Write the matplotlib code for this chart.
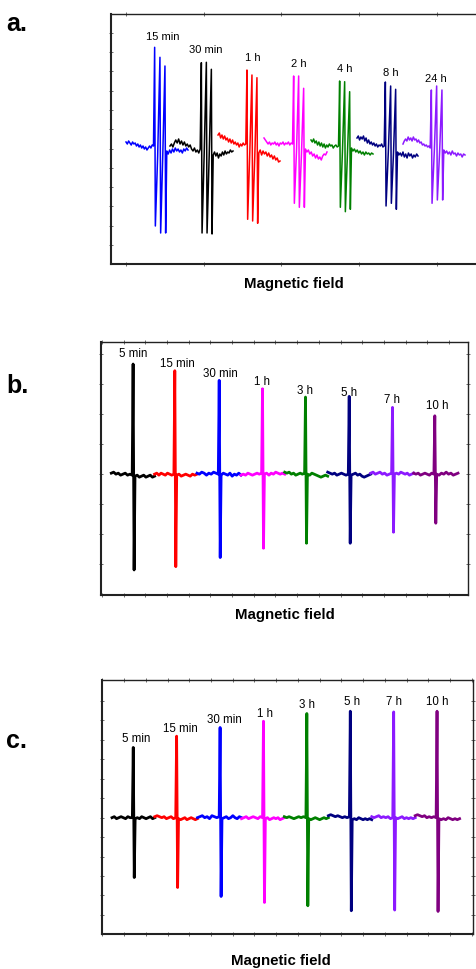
import numpy as np
import matplotlib
matplotlib.use("Agg")
import matplotlib.pyplot as plt

plt.rcParams["font.family"] = ["Liberation Sans", "DejaVu Sans"]

W, H = 477, 969

# ---------------- panel a: three-line spectra ----------------
A_LABELS = ["15 min", "30 min", "1 h", "2 h", "4 h", "8 h", "24 h"]
A_COLORS = ["#0000ff", "#000000", "#ff0000", "#ff00ff", "#008000", "#000080", "#8c1aff"]
A_START = [15, 59, 107, 153, 200, 246, 292]
A_END = [77, 122, 169, 216, 262, 307, 354]
A_LINE_X = [[44, 49.3, 54.3], [90.7, 95.7, 100.7], [136.3, 141.3, 146.3],
            [183, 188, 193], [229, 234, 239], [274.7, 280, 285], [320.7, 326, 331.3]]
A_TOP = [[99.7, 89.7, 81], [84.3, 84.7, 77.7], [77, 72, 69.3], [71, 71, 58.7],
         [66, 65.3, 55.3], [65, 61, 57.7], [57, 61, 57]]
A_BOT = [[-79, -86, -86], [-86, -86, -87], [-72.3, -74, -76.3], [-56.3, -60.3, -60.3],
         [-60.3, -64.7, -62.3], [-59, -56.3, -62.3], [-56.3, -53, -53]]
A_PRE = [[5, 3, 6, 4, 2, 5, 3, 4, 1, 3, 0, 2, -1, 1, -2, 0, -3, -1, 1, -1, 2, 1],
         [1, 3, 0, 4, 7, 4, 8, 3, 6, 2, 5, 1, 3, 0, 2, -2, -4, -1, -5, -3, -6, -2],
         [12, 14, 9, 12, 8, 11, 7, 9, 5, 8, 4, 7, 3, 5, 2, 4, 0, 3, 1, 4, 2, 3],
         [9, 7, 5, 3, 5, 2, 4, 3, 5, 2, 4, 1, 4, 3, 5, 2, 4, 3, 5, 2, 4, 3],
         [7, 5, 8, 4, 6, 2, 5, 1, 4, 0, 3, -1, 2, 0, 3, 1, 2, -1, 1, 2, 0, 1],
         [9, 11, 7, 10, 8, 11, 6, 9, 4, 7, 3, 5, 2, 4, 1, 3, 0, 2, 1, 3, 0, 1],
         [3, 6, 8, 6, 10, 7, 9, 6, 10, 7, 8, 5, 7, 4, 5, 2, 3, 1, 2, 0, 1, -1]]
A_MID = [[-9, -7], [-6, -8], [-5, -9], [-4, -6], [-3, -5], [-4, -6], [-3, -4]]
A_POST = [[-4, -7, -3, -6, -2, -5, -1, -4, -2, -5, -3, -6, -2, -4, -1, -3],
          [-8, -5, -9, -6, -11, -7, -9, -5, -8, -4, -7, -5, -6, -3, -5, -4],
          [-6, -3, -8, -4, -7, -5, -9, -6, -10, -8, -12, -9, -13, -11, -15, -14],
          [-2, -5, -3, -7, -5, -9, -7, -11, -8, -12, -10, -13, -9, -7, -8, -5],
          [-1, -4, -2, -5, -3, -6, -4, -7, -5, -8, -5, -7, -6, -8, -6, -7],
          [-5, -8, -6, -9, -5, -10, -7, -11, -6, -9, -7, -11, -8, -10, -7, -9],
          [-3, -6, -4, -7, -5, -8, -4, -7, -6, -9, -6, -8, -7, -10, -7, -8]]
A_LABEL_X = [51.3, 94.7, 142.3, 188, 233.3, 279.7, 325]
A_LABEL_Y = [110, 97, 88.7, 83, 78, 73.7, 68]

# ---------------- panel b: single-line spectra ----------------
B_LABELS = ["5 min", "15 min", "30 min", "1 h", "3 h", "5 h", "7 h", "10 h"]
BC_COLORS = ["#000000", "#ff0000", "#0000ff", "#ff00ff", "#008000", "#000080",
             "#8c1aff", "#800080"]
B_START = [10.3, 53.6, 96, 140, 183.7, 226.7, 269.7, 312.7]
B_END = [53.6, 96, 140, 183.7, 226.7, 269.7, 312.7, 357]
B_LINE_X = [32.6, 74.3, 118.7, 162, 205, 248.7, 292, 334.3]
B_TOP = [110, 103.3, 93.7, 85.3, 77, 77.7, 66.7, 58.3]
B_BOT = [-95.7, -92.4, -83.3, -74, -69, -69, -58, -49]
B_PRE = [[1, 2, 0, 1, -1, 0, 1, -1, 0, -1],
         [0, 1, -1, 1, 0, -1, 1, 0, -1, 0],
         [1, 0, 2, 1, -1, 1, 0, 2, 1, 0],
         [-1, 0, -1, 1, 0, -1, 0, 1, 0, 1],
         [2, 1, 2, 0, 1, -1, 0, 1, 0, 1],
         [2, 1, 0, 1, -1, 0, 1, 0, -1, 0],
         [1, 2, 0, 1, 2, 0, 1, -1, 0, 1],
         [1, 0, 1, -1, 0, 1, 0, -1, 1, 0]]
B_POST = [[-2, -1, -3, -2, -1, -3, -2, -1, -3, -2],
          [-1, 0, -2, -1, 0, -1, -2, 0, -1, 0],
          [-1, 1, 0, -1, 1, -2, 0, -1, 1, -1],
          [0, 1, -1, 1, 0, 2, 1, 0, 1, 0],
          [0, -1, 1, 0, -1, -2, -3, -2, -1, -2],
          [-1, 0, 1, -1, 0, -2, -3, -2, -1, 0],
          [0, 1, 0, 2, 1, 0, 1, -1, 0, 1],
          [0, -1, 1, 0, 2, 0, 1, -1, 0, 1]]
B_LABEL_X = [32, 76, 119.3, 161, 204.3, 248.3, 291, 336]
B_LABEL_Y = [120, 110.3, 100.3, 91.6, 83.3, 81, 73.6, 67.6]

# ---------------- panel c ----------------
C_LABELS = ["5 min", "15 min", "30 min", "1 h", "3 h", "5 h", "7 h", "10 h"]
C_START = [10, 52.7, 95.3, 139.3, 182, 226, 269.3, 312.7]
C_END = [52.7, 95.3, 139.3, 182, 226, 269.3, 312.7, 357]
C_LINE_X = [31.7, 75, 118.4, 161.7, 205, 248.4, 291.7, 335]
C_TOP = [70.4, 81.7, 90.4, 96.7, 104.4, 106.7, 106, 106.7]
C_BOT = [-60, -70, -79, -85, -88.3, -93.3, -92.6, -94]
C_PRE = [[0, 1, -1, 0, 1, 0, -1, 1, 0, 0],
         [1, 2, 1, 0, 1, -1, 0, 1, -1, 0],
         [0, 1, 2, 0, 1, -1, 2, 1, 0, 1],
         [-1, 0, 1, -1, 0, 1, 0, -1, 1, 0],
         [1, 0, 1, 0, -1, 0, 1, 0, 1, 0],
         [2, 3, 2, 1, 2, 1, 0, 1, 0, 1],
         [1, 0, 1, 2, 0, 1, 0, 1, -1, 0],
         [2, 3, 2, 1, 2, 0, 1, 0, 1, 0]]
C_POST = [[-1, 0, -1, 1, 0, -1, 0, 1, -1, 0],
          [-1, -2, -1, 0, -2, -1, 0, -1, -2, -1],
          [-1, 0, 1, -1, 0, 2, 0, -1, 1, 0],
          [-1, 0, -2, -1, 0, -1, 0, -2, -1, 0],
          [-1, -2, -1, 0, -1, -2, -1, 0, -1, 0],
          [-2, -1, -2, 0, -1, -2, -1, -2, -1, -2],
          [0, -1, 0, 1, -1, 0, -1, 0, -1, 0],
          [-1, -2, -1, -2, 0, -1, -2, -1, -2, -1]]
C_LABEL_X = [33.7, 78.7, 122, 162.7, 205, 249.4, 291.7, 334.4]
C_LABEL_Y = [78.7, 88.7, 97.7, 104.4, 112.7, 116, 116, 116]


def build_trace(start, end, line_x, tops, bots, pre, post, mid=None, gap=1.5, dx=0.4):
    xs = list(np.linspace(start, line_x[0] - gap, len(pre)))
    ys = list(pre)
    for i, lx in enumerate(line_x):
        xs += [lx - dx, lx + dx]
        ys += [tops[i], bots[i]]
        if mid is not None and i < len(line_x) - 1:
            xs.append((lx + line_x[i + 1]) / 2)
            ys.append(mid[i])
    xs += list(np.linspace(line_x[-1] + gap, end, len(post)))
    ys += list(post)
    return np.array(xs), np.array(ys)


def make_axes(fig, l, r, t, b):
    return fig.add_axes([l / W, 1 - b / H, (r - l) / W, (b - t) / H])


def style_axes(ax, xticks, yticks, right=True):
    ax.set_xticks(xticks)
    ax.set_yticks(yticks)
    ax.tick_params(which="both", direction="inout", length=3, width=0.6, color="#555555",
                   labelleft=False, labelbottom=False, top=True, right=right)
    for side, sp in ax.spines.items():
        sp.set_color("#222222")
        sp.set_linewidth(1.5 if side in ("left", "bottom") else 1.0)
    if not right:
        ax.spines["right"].set_visible(False)


fig = plt.figure(figsize=(W / 100, H / 100), dpi=100)

# panel a
ax = make_axes(fig, 111, 478, 14, 264)
for i in range(len(A_LABELS)):
    x, y = build_trace(A_START[i], A_END[i], A_LINE_X[i], A_TOP[i], A_BOT[i],
                       A_PRE[i], A_POST[i], mid=A_MID[i], gap=1.5, dx=0.35)
    ax.plot(x, y, color=A_COLORS[i], lw=1.1)
    ax.text(A_LABEL_X[i], A_LABEL_Y[i], A_LABELS[i], ha="center", va="center", fontsize=8)
ax.set_xlim(0, 367)
ax.set_ylim(-117, 133)
style_axes(ax, [15 + 77.7 * k for k in range(5)], [-98 + 19.3 * k for k in range(12)], right=False)

# panel b
ax = make_axes(fig, 101, 468, 342, 595)
for i in range(len(B_LABELS)):
    x, y = build_trace(B_START[i], B_END[i], [B_LINE_X[i]], [B_TOP[i]], [B_BOT[i]],
                       B_PRE[i], B_POST[i], gap=1.4, dx=0.5)
    ax.plot(x, y, color=BC_COLORS[i], lw=2.0)
    ax.text(B_LABEL_X[i], B_LABEL_Y[i], B_LABELS[i], ha="center", va="center", fontsize=8.3)
ax.set_xlim(0, 367)
ax.set_ylim(-120.7, 132)
style_axes(ax, [0.9 + 21.7 * k for k in range(17)], [-90 + 30 * k for k in range(8)])

# panel c
ax = make_axes(fig, 102, 473, 680, 934)
for i in range(len(C_LABELS)):
    x, y = build_trace(C_START[i], C_END[i], [C_LINE_X[i]], [C_TOP[i]], [C_BOT[i]],
                       C_PRE[i], C_POST[i], gap=1.4, dx=0.5)
    ax.plot(x, y, color=BC_COLORS[i], lw=2.0)
    ax.text(C_LABEL_X[i], C_LABEL_Y[i], C_LABELS[i], ha="center", va="center", fontsize=8.3)
ax.set_xlim(0, 370.4)
ax.set_ylim(-116.6, 138)
style_axes(ax, [0.3 + 21.7 * k for k in range(18)], [-97.5 + 19.5 * k for k in range(12)])

# panel letters and axis titles
for letter, base in (("a.", 31), ("b.", 393), ("c.", 748)):
    fig.text(6 / W, 1 - base / H, letter, fontsize=18, fontweight="bold", va="baseline")
for cx, cy in ((294, 284), (285, 615), (281, 961)):
    fig.text(cx / W, 1 - cy / H, "Magnetic field", fontsize=10.8, fontweight="bold",
             ha="center", va="center")

fig.savefig("out.png", dpi=100)
